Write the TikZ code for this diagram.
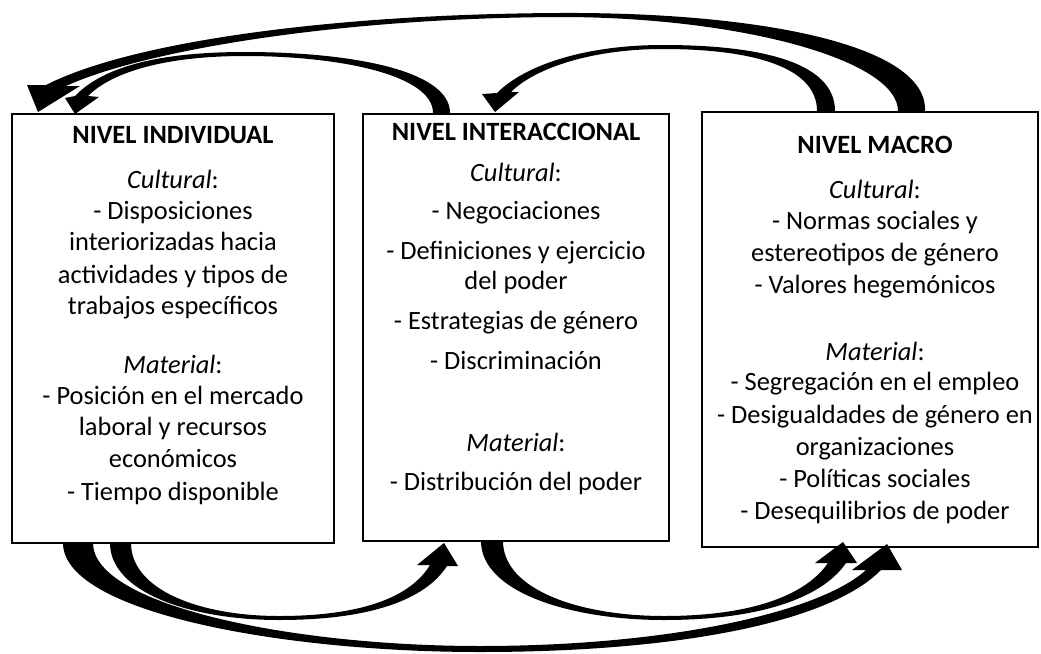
\documentclass[tikz,border=0pt]{standalone}
\usepackage{fontspec}
\setmainfont{Carlito}
\begin{document}
\begin{tikzpicture}[x=1pt,y=-1pt,
  box/.style={draw, line width=1.6pt, fill=white, rectangle, inner sep=0pt},
  txt/.style={anchor=base, inner sep=0pt, font=\fontsize{26.4}{32}\selectfont},
  band/.style={fill=black, draw=none}]
\useasboundingbox (0,0) rectangle (1041,653);
% boxes
\node[box, minimum width=322pt, minimum height=429pt] (b1) at (173,328.5) {};
\node[box, minimum width=306pt, minimum height=427pt] (b2) at (516,327.5) {};
\node[box, minimum width=336pt, minimum height=435pt] (b3) at (870,329.5) {};
% texts box 1
\foreach \t/\y [count=\i] in {%
  {\bfseries NIVEL INDIVIDUAL}/143,
  {\textit{Cultural}:}/188,
  {- Disposiciones}/219,
  {interiorizadas hacia}/250,
  {actividades y tipos de}/283,
  {trabajos específicos}/314,
  {\textit{Material}:}/373,
  {- Posición en el mercado}/404,
  {laboral y recursos}/435,
  {económicos}/467,
  {- Tiempo disponible}/500}
  \node[txt] (ta\i) at (173,\y) {\t};
% texts box 2
\foreach \t/\y [count=\i] in {%
  {\bfseries NIVEL INTERACCIONAL}/140,
  {\textit{Cultural}:}/181,
  {- Negociaciones}/219,
  {- Definiciones y ejercicio}/259,
  {del poder}/289,
  {- Estrategias de género}/329,
  {- Discriminación}/369,
  {\textit{Material}:}/451,
  {- Distribución del poder}/490}
  \node[txt] (tb\i) at (516,\y) {\t};
% texts box 3
\foreach \t/\y [count=\i] in {%
  {\bfseries NIVEL MACRO}/153,
  {\textit{Cultural}:}/198,
  {- Normas sociales y}/229,
  {estereotipos de género}/261,
  {- Valores hegemónicos}/293,
  {\textit{Material}:}/360,
  {- Segregación en el empleo}/390,
  {- Desigualdades de género en}/423,
  {organizaciones}/455,
  {- Políticas sociales}/487,
  {- Desequilibrios de poder}/519}
  \node[txt] (tc\i) at (875,\y) {\t};
% top arrows
% E: macro -> individual (outer)
\fill[band] (925,111) .. controls (928,45) and (760,12) .. (560,13)
  .. controls (330,14) and (130,42) .. (46,85)
  -- (27,85) -- (38,112) -- (80,86) -- (66,86)
  .. controls (140,52) and (330,18) .. (560,17)
  .. controls (740,17) and (898,60) .. (898,111) -- cycle;
% D: interaccional -> individual
\fill[band] (450,113) .. controls (450,70) and (350,52) .. (245,52)
  .. controls (150,52) and (100,70) .. (75,96)
  -- (65,98) -- (75,114) -- (99,97) -- (88,96)
  .. controls (112,72) and (165,56) .. (245,56)
  .. controls (340,56) and (433,75) .. (433,113) -- cycle;
% F: macro -> interaccional
\fill[band] (835,111) .. controls (835,62) and (760,45) .. (663,45)
  .. controls (585,45) and (525,65) .. (497,93)
  -- (482,94) -- (495,112) -- (519,92) -- (511,92)
  .. controls (535,68) and (592,49) .. (663,49)
  .. controls (750,49) and (817,66) .. (817,111) -- cycle;
% bottom arrows
% A: individual -> interaccional
\fill[band] (110,543) .. controls (110,592) and (190,620) .. (279,620)
  .. controls (370,620) and (425,600) .. (447,566)
  -- (458,566) -- (444,543) -- (417,565) -- (430,565)
  .. controls (410,598) and (360,616) .. (279,616)
  .. controls (200,616) and (131,590) .. (131,543) -- cycle;
% B: interaccional -> macro
\fill[band] (481,541) .. controls (481,592) and (570,620) .. (664,620)
  .. controls (760,620) and (822,598) .. (846,563)
  -- (857,563) -- (843,542) -- (815,563) -- (828,563)
  .. controls (805,596) and (750,616) .. (664,616)
  .. controls (580,616) and (503,590) .. (503,541) -- cycle;
% C: individual -> macro (outer)
\fill[band] (63,543) .. controls (63,612) and (280,652) .. (480,652)
  .. controls (680,652) and (830,622) .. (881,570)
  -- (902,570) -- (887,544) -- (852,570) -- (866,570)
  .. controls (820,612) and (670,646) .. (480,646)
  .. controls (290,646) and (93,605) .. (93,543) -- cycle;
\end{tikzpicture}
\end{document}
